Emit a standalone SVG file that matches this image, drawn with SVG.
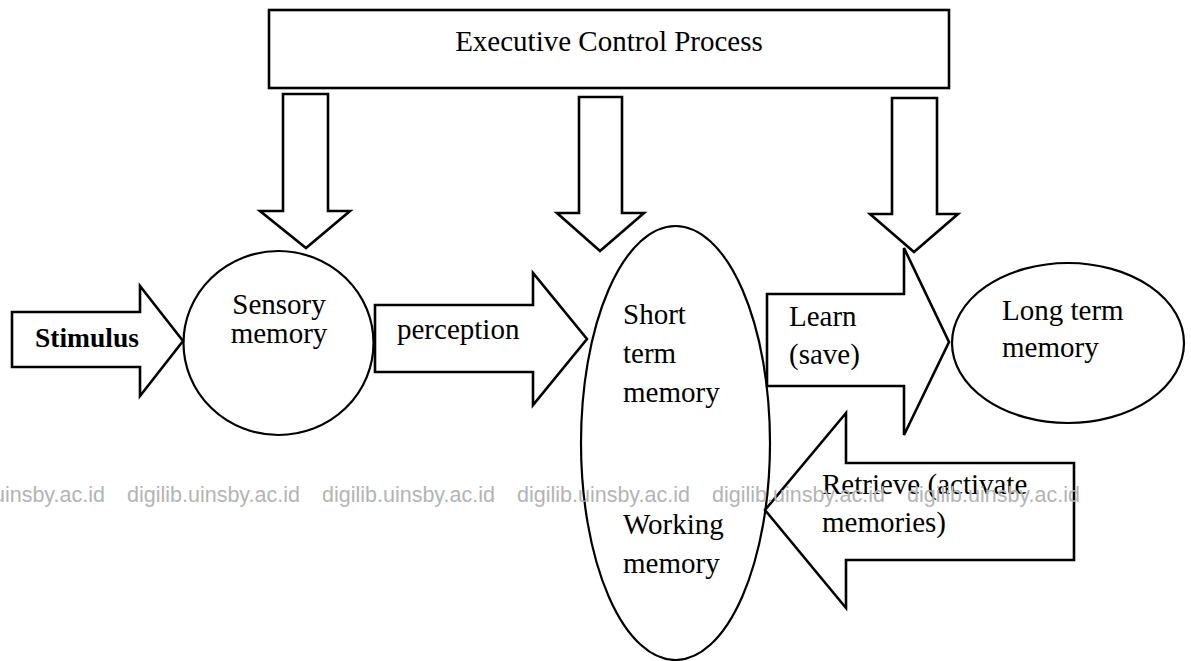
<svg xmlns="http://www.w3.org/2000/svg" width="1191" height="661" viewBox="0 0 1191 661">
  <style>
    .shape { fill: #fff; stroke: #000; stroke-width: 2.6; stroke-linejoin: miter; }
    .oval { fill: #fff; stroke: #000; stroke-width: 2.2; }
    .lbl { font-family: "Liberation Serif", "Times New Roman", serif; font-size: 29px; fill: #000; }
    .bold { font-weight: bold; font-size: 27.5px; }
    .wm { font-family: "Liberation Sans", Arial, sans-serif; font-size: 21.5px; fill: #b4b4b4; }
  </style>
  <rect width="1191" height="661" fill="#fff"/>

  <!-- memory stores -->
  <g id="sensory-memory">
    <ellipse class="oval" cx="278.5" cy="343" rx="95" ry="92"/>
    <text class="lbl" x="279" y="314" text-anchor="middle">Sensory</text>
    <text class="lbl" x="279" y="343" text-anchor="middle">memory</text>
  </g>

  <g id="short-term-memory">
    <ellipse class="oval" cx="675.5" cy="443" rx="94.5" ry="217"/>
    <text class="lbl" x="623" y="324">Short</text>
    <text class="lbl" x="623" y="363">term</text>
    <text class="lbl" x="623" y="402">memory</text>
    <text class="lbl" x="623" y="534">Working</text>
    <text class="lbl" x="623" y="573">memory</text>
  </g>

  <g id="long-term-memory">
    <ellipse class="oval" cx="1068" cy="343" rx="116" ry="80"/>
    <text class="lbl" x="1002" y="320">Long term</text>
    <text class="lbl" x="1002" y="357">memory</text>
  </g>

  <g id="executive-control">
    <rect class="shape" x="269" y="10" width="680" height="78" stroke-width="3"/>
    <text class="lbl" x="609" y="51" text-anchor="middle" font-size="29.5">Executive Control Process</text>
  </g>

  <!-- block arrows between stages -->
  <g id="connectors">
    <polygon class="shape" points="283,94 328,94 328,211 350,211 306,248 260,211 283,211"/>
    <polygon class="shape" points="579,97 622,97 622,213 644,213 600,251 557,213 579,213"/>
    <polygon class="shape" points="892,98 937,98 937,214 958,214 914,252 870,214 892,214"/>

    <g id="stimulus">
      <polygon class="shape" points="12,312 140,312 140,286 183,341 140,396 140,367 12,367"/>
      <text class="lbl bold" x="87" y="347" text-anchor="middle">Stimulus</text>
    </g>
    <g id="perception">
      <polygon class="shape" points="375,305 533,305 533,273 587,339 533,405 533,372 375,372"/>
      <text class="lbl" x="397" y="339">perception</text>
    </g>
    <g id="learn">
      <polygon class="shape" points="767,294 904,294 904,248 949,342 904,435 904,386 767,386"/>
      <text class="lbl" x="789" y="326">Learn</text>
      <text class="lbl" x="789" y="364">(save)</text>
    </g>
    <g id="retrieve">
      <polygon class="shape" points="765,510 846,413 846,463 1074,463 1074,560 846,560 846,608"/>
      <text class="lbl" x="822" y="494">Retrieve (activate</text>
      <text class="lbl" x="822" y="532">memories)</text>
    </g>
  </g>

  <!-- repository watermark line -->
  <g id="watermark">
    <text class="wm" x="-68" y="502">digilib.uinsby.ac.id</text>
    <text class="wm" x="127" y="502">digilib.uinsby.ac.id</text>
    <text class="wm" x="322" y="502">digilib.uinsby.ac.id</text>
    <text class="wm" x="517" y="502">digilib.uinsby.ac.id</text>
    <text class="wm" x="712" y="502">digilib.uinsby.ac.id</text>
    <text class="wm" x="907" y="502">digilib.uinsby.ac.id</text>
  </g>
</svg>
